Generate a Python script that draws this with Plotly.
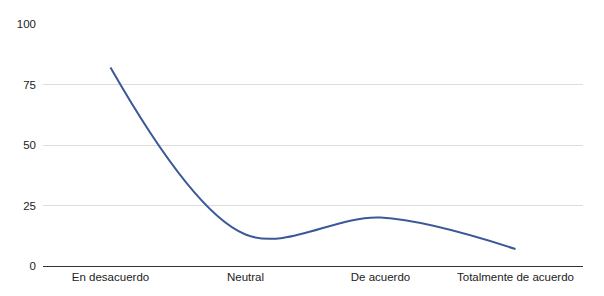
import plotly.graph_objects as go

categories = ["En desacuerdo", "Neutral", "De acuerdo", "Totalmente de acuerdo"]
values = [82, 13, 20, 7]
y_ticks = [0, 25, 50, 75, 100]

x_pos = list(range(len(categories)))

fig = go.Figure()
fig.add_trace(go.Scatter(
    x=x_pos, y=values, mode="lines",
    line=dict(color="#3b5998", width=2, shape="spline", smoothing=1.0),
    hoverinfo="skip",
))
fig.update_layout(
    width=604, height=296,
    margin=dict(l=43, r=21, t=24, b=30),
    paper_bgcolor="white", plot_bgcolor="white",
    showlegend=False,
    font=dict(family="Liberation Sans, Arial, sans-serif", size=12, color="#222"),
)
fig.update_xaxes(
    range=[-0.5, len(categories) - 0.5],
    tickvals=x_pos, ticktext=categories,
    showgrid=False, showline=True, linecolor="#333", linewidth=1,
    zeroline=False, ticks="", automargin=False,
    tickfont=dict(size=11.5, color="#222"),
)
fig.update_yaxes(
    range=[0, 100], tickvals=y_ticks, ticktext=[str(v) for v in y_ticks],
    showgrid=True, gridcolor="#dddddd", gridwidth=1,
    zeroline=False, showline=False, ticks="", ticklabelstandoff=6,
    automargin=False,
    tickfont=dict(size=11.5, color="#222"),
)
fig.write_html("out.html")
